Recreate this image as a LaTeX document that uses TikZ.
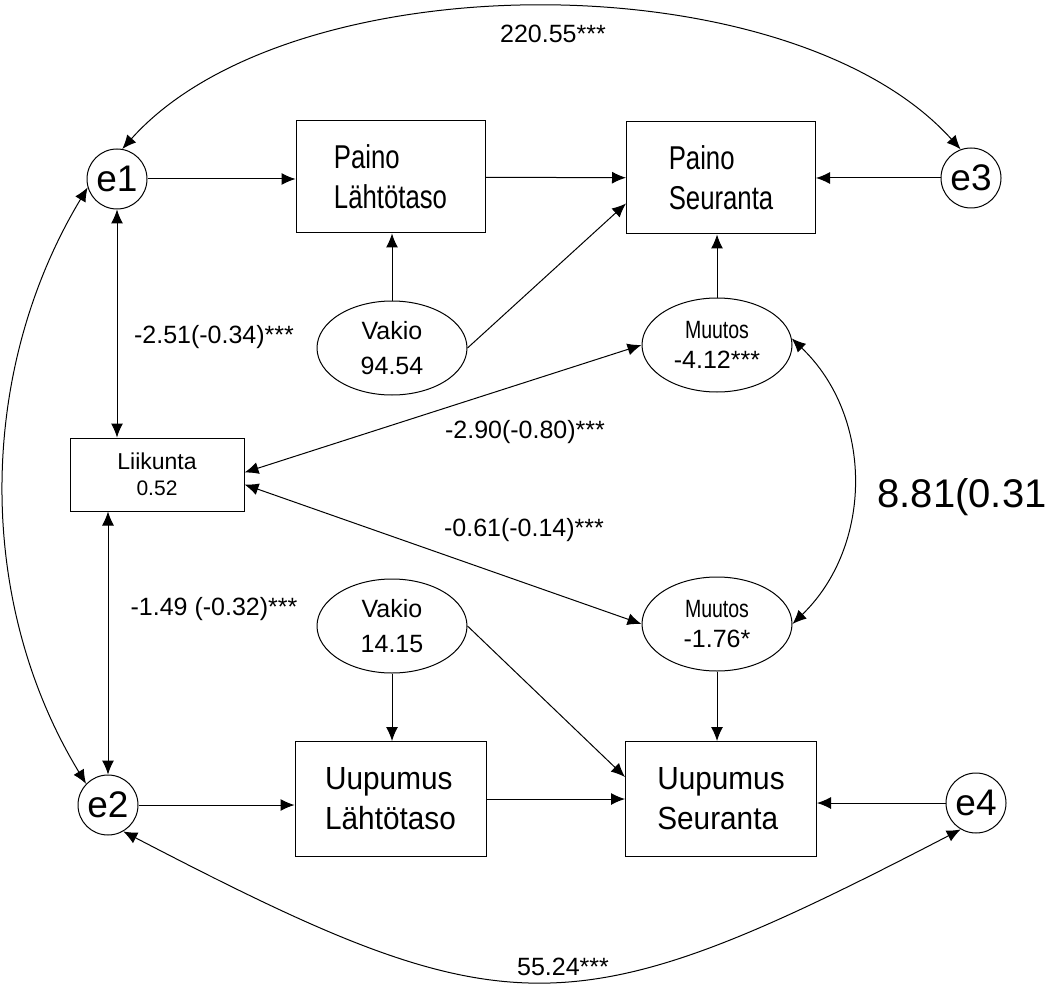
\documentclass[tikz,border=0pt]{standalone}
\usepackage{fontspec}
\setmainfont{Liberation Sans}
\newfontfamily\narrowfont[FakeStretch=0.78]{Liberation Sans}
\newfontfamily\semifont[FakeStretch=0.93]{Liberation Sans}
\usetikzlibrary{positioning,shapes.geometric,arrows.meta}

\tikzset{
  varbox/.style={rectangle,draw,minimum width=189pt,minimum height=112pt,inner sep=0pt,align=left,font=\narrowfont\fontsize{33}{40}\selectfont},
  varboxlow/.style={rectangle,draw,minimum width=191pt,minimum height=115pt,inner sep=0pt,align=left,font=\semifont\fontsize{32}{40}\selectfont},
  latent/.style={ellipse,draw,minimum width=150pt,minimum height=94pt,inner sep=0pt,align=center,font=\fontsize{25}{35}\selectfont},
  change/.style={ellipse,draw,minimum width=150pt,minimum height=94pt,inner sep=0pt,align=center,font=\fontsize{25}{30}\selectfont},
  err/.style={circle,draw,minimum size=60pt,inner sep=0pt,font=\fontsize{37}{40}\selectfont},
  coef/.style={inner sep=0pt,font=\fontsize{25}{30}\selectfont}
}

\begin{document}
\begin{tikzpicture}[x=1pt,y=-1pt,line width=1pt,>={Latex[length=14pt,width=12pt]}]

\useasboundingbox (0,0) rectangle (1049,984);

\node (e1) [err] at (117,179) {e1};

\node (e3) [err] at (971,178) {e3};

\node (e2) [err] at (108,805) {e2};

\node (e4) [err] at (976,803) {e4};

\node (pl) [varbox] at (390.5,177) {Paino\\Lähtötaso};

\node (ps) [varbox] at (721,178) {Paino\\Seuranta};

\node (v1) [latent] at (392,348) {Vakio\\94.54};

\node (m1) [change] at (717,345) {{\narrowfont Muutos}\\-4.12***};

\node (lk) [rectangle,draw,minimum width=174pt,minimum height=73pt,inner sep=0pt,align=center,font=\fontsize{23}{26}\selectfont] at (157,474.5) {Liikunta\\{\fontsize{21}{26}\selectfont 0.52}};

\node (v2) [latent,below of=v1,node distance=278pt] {Vakio\\14.15};

\node (m2) [change,below of=m1,node distance=279pt] {{\narrowfont Muutos}\\-1.76*};

\node (ul) [varboxlow,below of=pl,node distance=622pt] {Uupumus\\Lähtötaso};

\node (us) [varboxlow,below of=ps,node distance=621pt] {Uupumus\\Seuranta};

\node (c13) [coef] at (553,34) {220.55***};
\node (c24) [coef] at (563,967) {55.24***};
\node (c1l) [coef] at (214,337) {-2.51(-0.34)***};
\node (c2l) [coef] at (214,609) {-1.49 (-0.32)***};
\node (cm1) [coef] at (525,432) {-2.90(-0.80)***};
\node (cm2) [coef] at (524,530) {-0.61(-0.14)***};
\node (cmm) [inner sep=0pt,anchor=west,font=\fontsize{40}{44}\selectfont] at (877,497) {8.81(0.31};

\draw[->] (e1) -- (e1 -| pl.west);
\draw[->] (pl) -- (ps);
\draw[->] (e3) -- (ps);
\draw[->] (v1) -- (v1 |- pl.south);
\draw[->] (v1.east) -- ([yshift=31pt]ps.south west);
\draw[->] (m1) -- (m1 |- ps.south);

\draw[->] (e2) -- (e2 -| ul.west);
\draw[->] (ul) -- (us);
\draw[->] (e4) -- (e4 -| us.east);
\draw[->] (v2) -- (v2 |- ul.north);
\draw[->] (v2.east) -- ([yshift=-36pt]us.north west);
\draw[->] (m2) -- (m2 |- us.north);

\draw[<->] (e1) -- (e1 |- lk.north);
\draw[<->] (e2) -- (e2 |- lk.south);
\draw[<->] ([yshift=2pt]lk.east) -- (m1.west);
\draw[<->] ([yshift=-10pt]lk.east) -- (m2.west);
\draw[<->] (m1.5) .. controls (874,417) and (873,546) .. (m2.east);

\draw[<->] (e1.80) .. controls (291,-40) and (790,-40) .. (e3.110);
\draw[<->] (e2.-60) .. controls (509,1032) and (570,1032) .. (e4.-120);
\draw[<->] (e1.196) .. controls (-23,371) and (-25,601) .. (e2.136);

\end{tikzpicture}
\end{document}
